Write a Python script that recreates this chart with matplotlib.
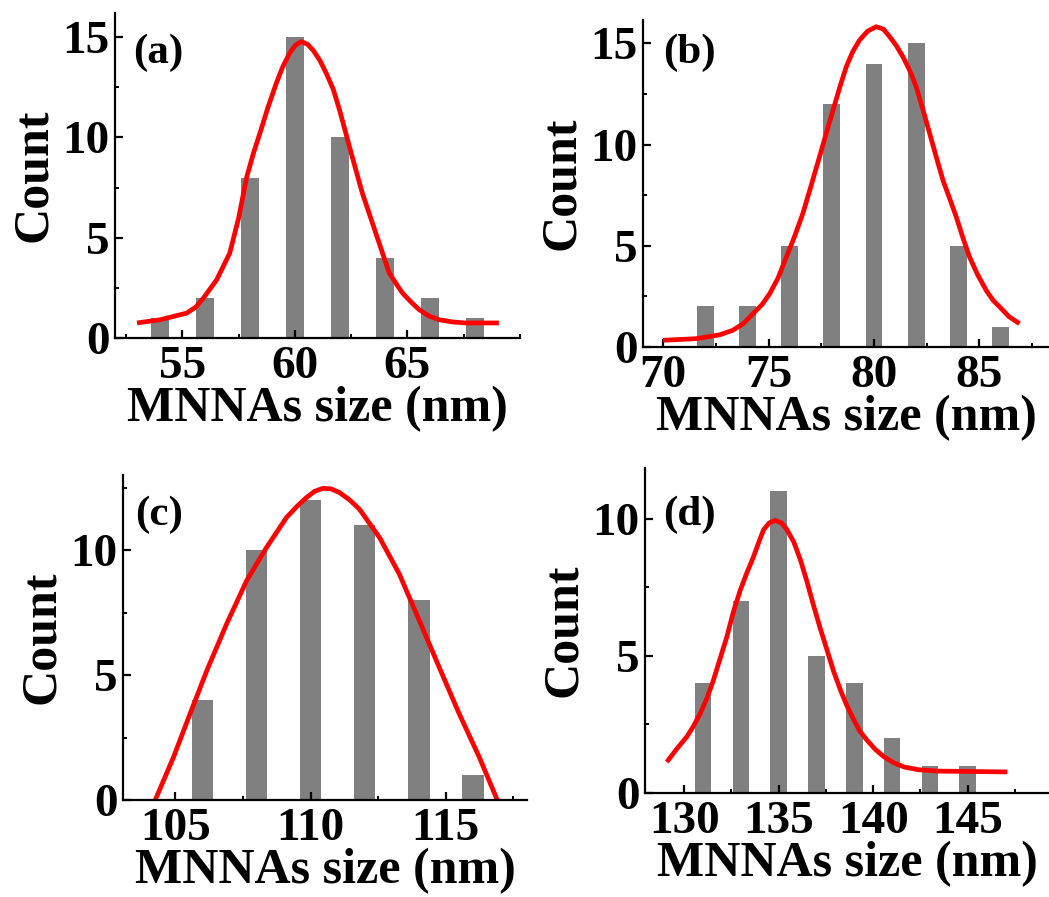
"""
size distribution histograms of the MNNAs, four samples, with fitted curves
"""

import numpy as np
import matplotlib
matplotlib.use("Agg")
import matplotlib.pyplot as plt
from matplotlib.ticker import MultipleLocator

plt.rcParams['font.family'] = ['Liberation Serif', 'DejaVu Serif']
plt.rcParams['font.weight'] = 'bold'

# (a)
size_a = [54, 56, 58, 60, 62, 64, 66, 68]
count_a = [1, 2, 8, 15, 10, 4, 2, 1]
fit_x_a = [52.98, 54.01, 55.19, 55.6, 55.93, 56.52, 57.1, 57.5, 57.85, 58.15, 58.44, 58.8,
           59.17, 59.45, 59.76, 60.02, 60.28, 60.55, 60.8, 61.1, 61.39, 61.7, 61.98, 62.42,
           62.7, 63.0, 63.3, 63.6, 63.9, 64.19, 64.5, 64.78, 65.15, 65.52, 65.95, 66.4,
           67.0, 67.58, 69.06]
fit_y_a = [0.75, 0.91, 1.24, 1.55, 1.99, 2.9, 4.23, 6.0, 8.0, 9.2, 10.2, 11.5,
           12.7, 13.5, 14.2, 14.6, 14.77, 14.65, 14.35, 13.85, 13.2, 12.4, 11.37, 9.54,
           8.4, 7.2, 6.2, 5.2, 4.2, 3.24, 2.7, 2.24, 1.8, 1.41, 1.1, 0.91,
           0.8, 0.75, 0.75]

# (b)
size_b = [72, 74, 76, 78, 80, 82, 84, 86]
count_b = [2, 2, 5, 12, 14, 15, 5, 1]
fit_x_b = [70.0, 71.58, 72.69, 73.3, 73.8, 74.27, 74.7, 75.06, 75.45, 75.85, 76.25, 76.63,
           77.0, 77.42, 77.75, 78.06, 78.4, 78.69, 79.0, 79.32, 79.7, 80.11, 80.45, 80.74,
           81.05, 81.37, 81.7, 82.0, 82.3, 82.64, 82.95, 83.27, 83.6, 83.9, 84.2, 84.53,
           84.9, 85.32, 85.65, 85.96, 86.4, 86.9]
fit_y_b = [0.33, 0.41, 0.6, 0.82, 1.15, 1.65, 2.1, 2.64, 3.4, 4.45, 5.5, 6.6,
           7.9, 9.4, 10.6, 11.7, 12.9, 13.85, 14.6, 15.16, 15.6, 15.82, 15.7, 15.33,
           14.9, 14.34, 13.65, 12.86, 11.8, 10.55, 9.4, 8.24, 7.3, 6.43, 5.45, 4.45,
           3.6, 2.8, 2.3, 1.98, 1.5, 1.15]

# (c)
size_c = [106, 108, 110, 112, 114, 116]
count_c = [4, 10, 12, 11, 8, 1]
fit_x_c = [104.26, 104.94, 105.55, 106.17, 106.9, 107.64, 108.37, 109.11, 109.5, 109.85,
           110.15, 110.46, 110.75, 111.07, 111.45, 111.81, 112.55, 113.28, 114.02, 114.75,
           115.49, 116.23, 116.9]
fit_y_c = [0.0, 1.73, 3.46, 5.19, 7.05, 8.78, 10.1, 11.3, 11.75, 12.1,
           12.35, 12.47, 12.45, 12.3, 12.0, 11.63, 10.5, 9.04, 7.18, 5.32,
           3.46, 1.73, 0.0]

# (d)
size_d = [131, 133, 135, 137, 139, 141, 143, 145]
count_d = [4, 7, 11, 5, 4, 2, 1, 1]
fit_x_d = [129.08, 129.6, 130.14, 130.5, 130.85, 131.2, 131.55, 131.9, 132.26, 132.6,
           132.97, 133.3, 133.67, 133.95, 134.2, 134.5, 134.82, 135.15, 135.44, 135.8,
           136.15, 136.5, 136.86, 137.2, 137.56, 137.9, 138.27, 138.6, 138.98, 139.3,
           139.68, 140.1, 140.57, 141.1, 141.63, 142.4, 143.4, 147.1]
fit_y_d = [1.13, 1.6, 2.05, 2.45, 2.9, 3.45, 4.12, 4.9, 5.7, 6.6,
           7.4, 8.0, 8.62, 9.15, 9.6, 9.85, 9.94, 9.85, 9.6, 9.15,
           8.5, 7.7, 6.8, 6.0, 5.21, 4.45, 3.75, 3.2, 2.66, 2.25,
           1.92, 1.6, 1.32, 1.1, 0.95, 0.85, 0.8, 0.77]

panels = [
    ("(a)", size_a, count_a, fit_x_a, fit_y_a, [0.1096, 0.6232, 0.3861, 0.3623],
     (52, 70), (0, 16.2), [55, 60, 65], [0, 5, 10, 15], 0.8, (0.044, 0.877)),
    ("(b)", size_b, count_b, fit_x_b, fit_y_b, [0.613, 0.6132, 0.387, 0.3645],
     (69.05, 88.3), (0, 16.15), [70, 75, 80, 85], [0, 5, 10, 15], 0.8, (0.05, 0.90)),
    ("(c)", size_c, count_c, fit_x_c, fit_y_c, [0.1173, 0.1081, 0.3851, 0.3623],
     (103.07, 118), (0, 13), [105, 110, 115], [0, 5, 10], 0.8, (0.03, 0.877)),
    ("(d)", size_d, count_d, fit_x_d, fit_y_d, [0.6149, 0.1159, 0.3851, 0.3623],
     (127.93, 149.3), (0, 11.85), [130, 135, 140, 145], [0, 5, 10], 0.88, (0.045, 0.855)),
]

fig = plt.figure(figsize=(10.49, 8.97), dpi=100)

for tag, xs, ys, fx, fy, pos, xl, yl, xt, yt, bw, tpos in panels:
    ax = fig.add_axes(pos)
    ax.bar(xs, ys, width=bw, color='#808080', zorder=1)
    ax.plot(fx, fy, color='#ff0000', lw=3.4, zorder=2,
            solid_joinstyle='round', solid_capstyle='butt')
    ax.set_xlim(*xl)
    ax.set_ylim(*yl)
    ax.set_xticks(xt)
    ax.set_yticks(yt)
    ax.xaxis.set_minor_locator(MultipleLocator(2.5))
    ax.yaxis.set_minor_locator(MultipleLocator(2.5))
    ax.spines['top'].set_visible(False)
    ax.spines['right'].set_visible(False)
    for s in ('left', 'bottom'):
        ax.spines[s].set_linewidth(1.6)
    ax.tick_params(which='major', direction='in', length=6, width=1.6,
                   labelsize=34)
    ax.tick_params(which='minor', direction='in', length=3, width=1.4)
    ax.tick_params(axis='x', which='major', pad=6)
    ax.tick_params(axis='y', which='major', pad=4)
    ax.set_xlabel("MNNAs size (nm)", fontsize=36, fontweight='bold', labelpad=-2)
    ax.set_ylabel("Count", fontsize=36, fontweight='bold', labelpad=4)
    ax.text(tpos[0], tpos[1], tag, transform=ax.transAxes, ha='left', va='center',
            fontsize=31, fontweight='bold')

fig.savefig("out.png", dpi=100)
